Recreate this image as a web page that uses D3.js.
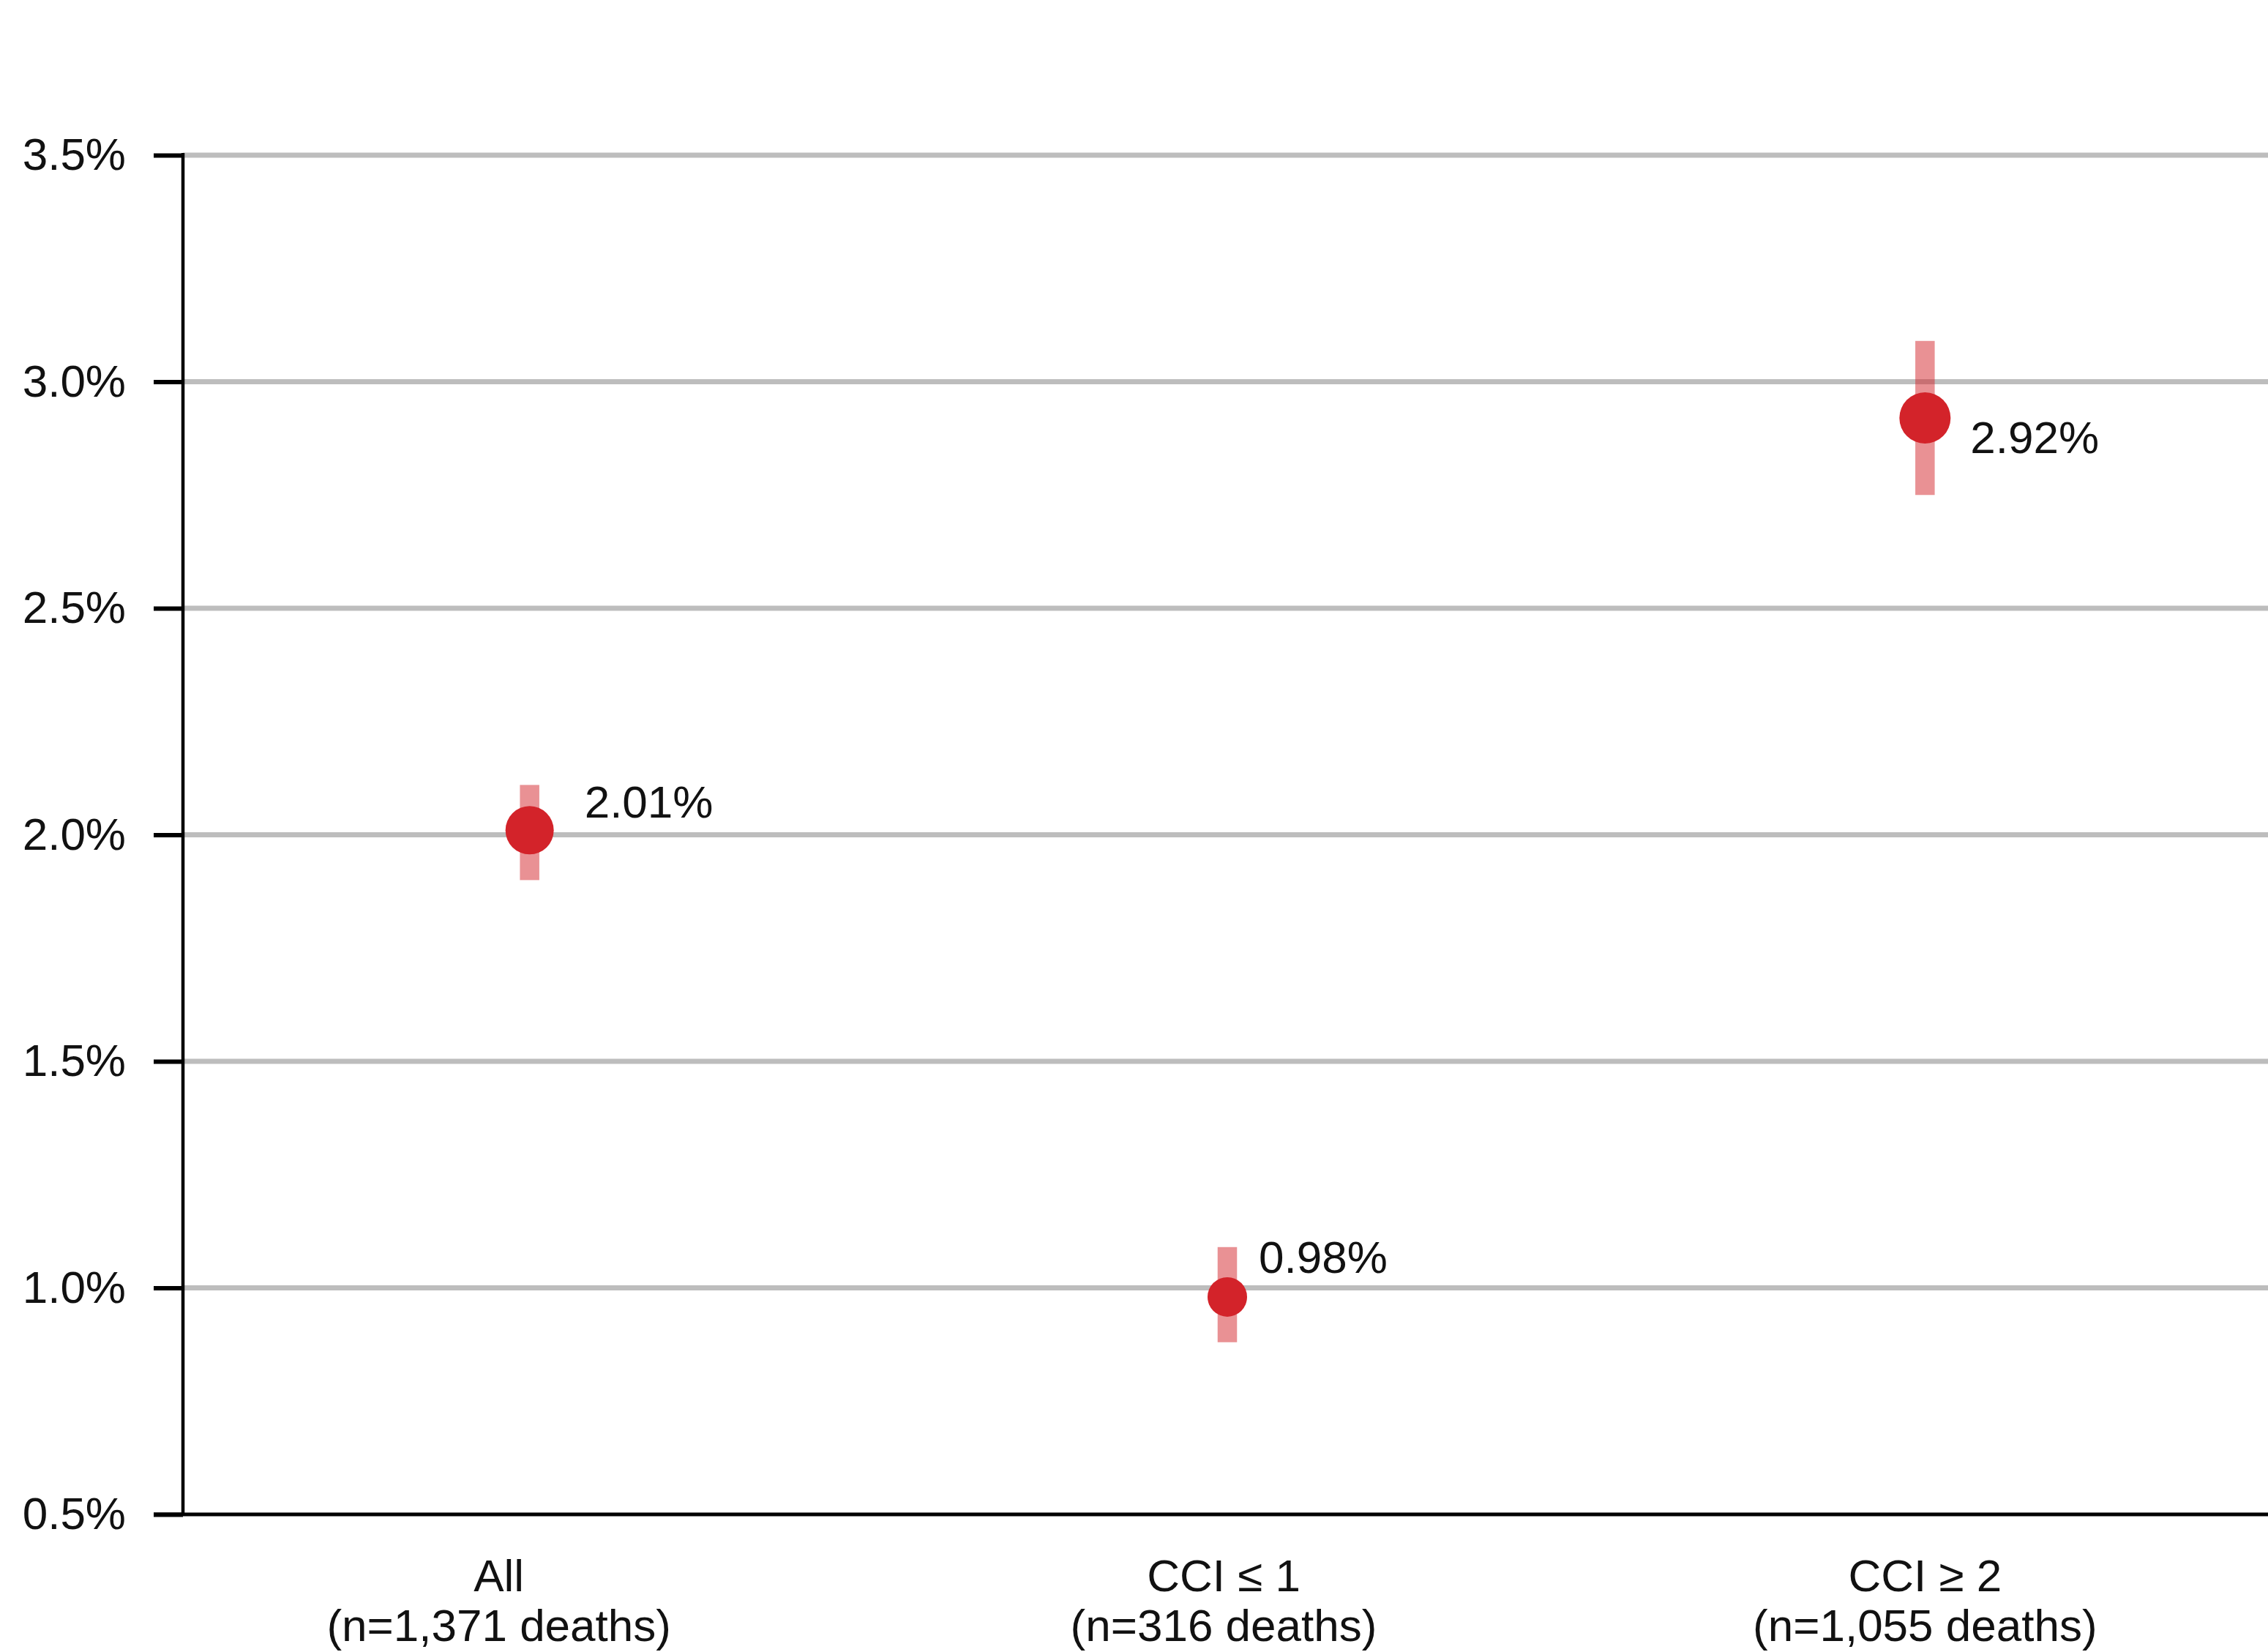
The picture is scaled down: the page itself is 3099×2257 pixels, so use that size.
<!DOCTYPE html>
<html>
<head>
<meta charset="utf-8">
<script src="https://cdn.jsdelivr.net/npm/d3@7"></script>
<style>
  body { margin: 0; background: #fff; }
  text { font-family: "Liberation Sans", Arial, Helvetica, sans-serif; fill: #111; }
</style>
</head>
<body>
<svg id="chart"></svg>
<script>
// data
const groups = ["All", "CCI \u2264 1", "CCI \u2265 2"]
const groupCounts = ["(n=1,371 deaths)", "(n=316 deaths)", "(n=1,055 deaths)"]
const rates = [2.01, 0.98, 2.92]
const ciLow = [1.90, 0.88, 2.75]
const ciHigh = [2.11, 1.09, 3.09]
const yTicks = [0.5, 1.0, 1.5, 2.0, 2.5, 3.0, 3.5]

// layout / style constants
const svgWidth = 3099, svgHeight = 2257
const plotLeft = 250, plotTop = 212, plotBottom = 2069
const dotRadius = [33, 27, 35]
const labelOffset = [[75, -17], [43, -33], [62, 48]]
const catShift = [-42, -5, 0]
const fontSize = 62
const red = "#d3232a"

const svg = d3.select("#chart")
  .attr("width", svgWidth)
  .attr("height", svgHeight)

const y = d3.scaleLinear().domain([0.5, 3.5]).range([plotBottom, plotTop])
const x = d3.scaleBand().domain(groups).range([247, 3107])

// gridlines
svg.append("g")
  .selectAll("line")
  .data(yTicks.filter(t => t > 0.5))
  .enter().append("line")
  .attr("x1", plotLeft)
  .attr("x2", svgWidth)
  .attr("y1", d => y(d))
  .attr("y2", d => y(d))
  .attr("stroke", "#bdbdbd")
  .attr("stroke-width", 7)

// y axis
const yAxis = svg.append("g")
  .attr("transform", `translate(${plotLeft},0)`)
  .call(d3.axisLeft(y)
    .tickValues(yTicks)
    .tickSize(40)
    .tickPadding(38)
    .tickFormat(d => d.toFixed(1) + "%"))

yAxis.select(".domain").remove()
yAxis.selectAll(".tick line").attr("stroke", "#000").attr("stroke-width", 6)
yAxis.selectAll(".tick text")
  .attr("font-size", fontSize)
  .attr("font-family", "Liberation Sans, Arial, sans-serif")
  .attr("fill", "#111")

// axis lines
svg.append("line")
  .attr("x1", plotLeft).attr("x2", plotLeft)
  .attr("y1", y(3.5) - 3).attr("y2", plotBottom)
  .attr("stroke", "#000").attr("stroke-width", 4.5)

svg.append("line")
  .attr("x1", plotLeft - 40).attr("x2", svgWidth)
  .attr("y1", plotBottom).attr("y2", plotBottom)
  .attr("stroke", "#000").attr("stroke-width", 5)

// category labels
const cat = svg.append("g")
  .selectAll("text")
  .data(groups)
  .enter().append("text")
  .attr("text-anchor", "middle")
  .attr("font-size", fontSize)
  .attr("transform", (d, i) => `translate(${x(d) + x.bandwidth() / 2 + catShift[i]},0)`)

cat.append("tspan").attr("x", 0).attr("y", 2174).text(d => d)
cat.append("tspan").attr("x", 0).attr("y", 2242).text((d, i) => groupCounts[i])

const pts = groups.map((g, i) => ({g, i, rate: rates[i], lo: ciLow[i], hi: ciHigh[i]}))
const cx = d => x(d.g) + x.bandwidth() / 2

// confidence intervals
svg.append("g")
  .selectAll("rect")
  .data(pts)
  .enter().append("rect")
  .attr("x", d => cx(d) - 13.25)
  .attr("width", 26.5)
  .attr("y", d => y(d.hi))
  .attr("height", d => y(d.lo) - y(d.hi))
  .attr("fill", red)
  .attr("fill-opacity", 0.5)

// point estimates
svg.append("g")
  .selectAll("circle")
  .data(pts)
  .enter().append("circle")
  .attr("cx", cx)
  .attr("cy", d => y(d.rate))
  .attr("r", d => dotRadius[d.i])
  .attr("fill", red)

// value labels
svg.append("g")
  .selectAll("text")
  .data(pts)
  .enter().append("text")
  .attr("x", d => cx(d) + labelOffset[d.i][0])
  .attr("y", d => y(d.rate) + labelOffset[d.i][1])
  .attr("font-size", fontSize)
  .text(d => d.rate.toFixed(2) + "%")
</script>
</body>
</html>
